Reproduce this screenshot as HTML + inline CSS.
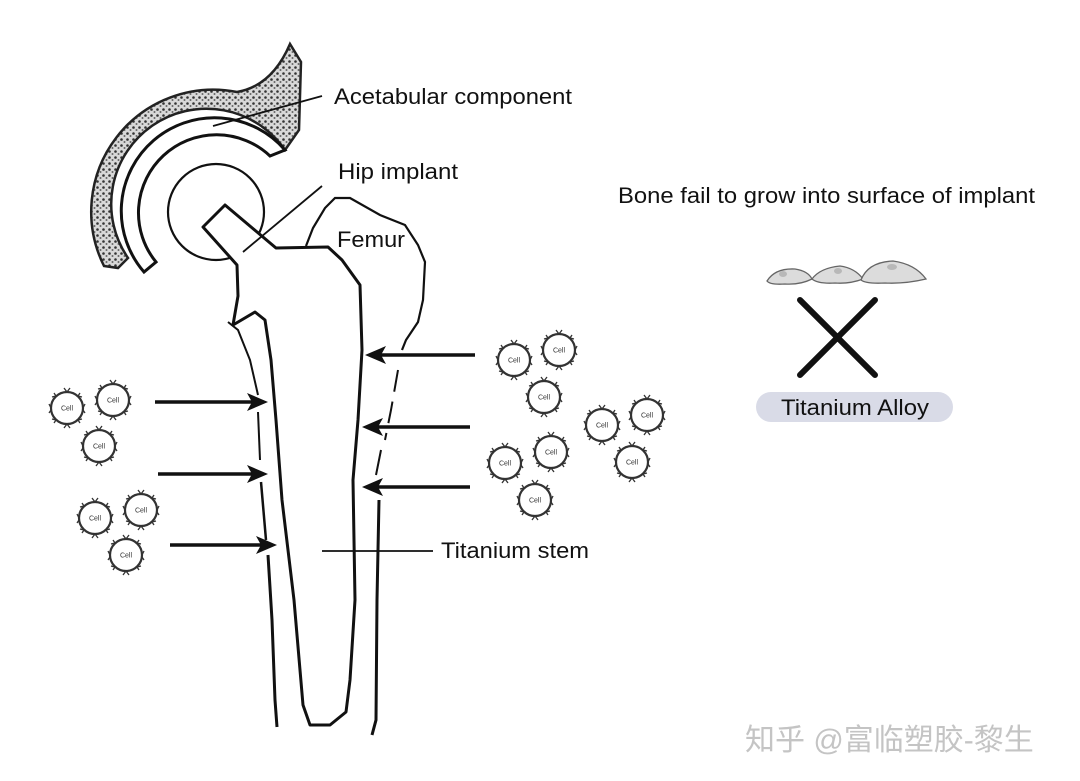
<!DOCTYPE html>
<html><head><meta charset="utf-8"><style>
html,body{margin:0;padding:0;background:#fff;}
svg{display:block}
text{font-family:"Liberation Sans",sans-serif;}
</style></head><body>
<svg width="1080" height="781" viewBox="0 0 1080 781" xmlns="http://www.w3.org/2000/svg">
<defs>
<pattern id="st" width="6" height="6" patternUnits="userSpaceOnUse">
<rect width="6" height="6" fill="#d8d8d8"/>
<circle cx="1.5" cy="1.5" r="1.3" fill="#333"/><circle cx="4.5" cy="4" r="1" fill="#666"/>
</pattern>
<g id="cell">
<circle r="16" fill="#fff" stroke="#333" stroke-width="2.2"/>
<g stroke="#333" stroke-width="1.3" fill="none">
<path d="M-3,-20 L0,-16 L3,-20"/><path d="M-3,20 L0,16 L3,20"/>
<path d="M13,-15 L11,-12 L15,-11"/><path d="M-13,-15 L-11,-12 L-15,-11"/>
<path d="M13,15 L11,12 L15,11"/><path d="M-13,15 L-11,12 L-15,11"/>
<path d="M18,-4 L16,0"/><path d="M-18,-4 L-16,0"/><path d="M18,5 L16,2"/><path d="M-18,5 L-16,2"/>
</g>
<text x="0" y="2.5" font-size="7" text-anchor="middle" fill="#333">Cell</text>
</g>
</defs>

<path d="M104 266 A122 122 0 0 1 237 92 Q272 86 290 44 L301 62 L299 130 L285 150 A93 93 0 0 0 128 258 L118 268 Z" fill="url(#st)" stroke="#222" stroke-width="2.5"/>
<path d="M285 150 A93 93 0 0 0 144 272 L156 262 A78 78 0 0 1 270 156 Z" fill="#fff" stroke="#111" stroke-width="3"/>
<circle cx="216" cy="212" r="48" fill="#fff" stroke="#111" stroke-width="2.2"/>
<path d="M203 227 L225 205 L276 248 L328 247 L342 260 L360 285 L362 350 L358 420 L353 480 L355 600 L350 680 L346 712 L330 725 L310 725 L303 705 L294 600 L282 500 L276 420 L271 360 L265 320 L255 312 L233 325 L238 296 L237 265 Z" fill="#fff" stroke="#111" stroke-width="3" stroke-linejoin="round"/>
<path d="M306 246 L313 228 L325 208 L335 198 L350 198 L380 215 L405 225 L418 245 L425 262 L423 300 L418 322 L406 340 L402 350" fill="none" stroke="#111" stroke-width="2.2"/>
<path d="M398 370 L391 410 L385 440" fill="none" stroke="#111" stroke-width="2" stroke-dasharray="22 10"/>
<path d="M381 450 L376 475" fill="none" stroke="#111" stroke-width="2"/>
<path d="M379 500 L377 600 L376 720 L372 735" fill="none" stroke="#111" stroke-width="3"/>
<path d="M228 322 L238 330 L250 360 L258 395" fill="none" stroke="#111" stroke-width="2"/>
<path d="M258 412 L260 460" fill="none" stroke="#111" stroke-width="2"/>
<path d="M261 482 L266 540" fill="none" stroke="#111" stroke-width="2.5"/>
<path d="M268 555 L272 620 L275 700 L277 727" fill="none" stroke="#111" stroke-width="3"/>
<g stroke="#111" stroke-width="1.8">
<line x1="213" y1="126" x2="322" y2="96"/>
<line x1="243" y1="252" x2="322" y2="186"/>
<line x1="322" y1="551" x2="433" y2="551"/>
</g>
<g stroke="#111" stroke-width="3.5">
<line x1="155" y1="402" x2="255" y2="402"/>
<line x1="158" y1="474" x2="255" y2="474"/>
<line x1="170" y1="545" x2="265" y2="545"/>
<line x1="475" y1="355" x2="378" y2="355"/>
<line x1="470" y1="427" x2="375" y2="427"/>
<line x1="470" y1="487" x2="375" y2="487"/>
</g>
<g fill="#111">
<path d="M268 402 L247 393 L252 402 L247 411 Z"/>
<path d="M268 474 L247 465 L252 474 L247 483 Z"/>
<path d="M277 545 L256 536 L261 545 L256 554 Z"/>
<path d="M365 355 L386 346 L381 355 L386 364 Z"/>
<path d="M362 427 L383 418 L378 427 L383 436 Z"/>
<path d="M362 487 L383 478 L378 487 L383 496 Z"/>
</g>
<use href="#cell" x="67" y="408"/><use href="#cell" x="113" y="400"/><use href="#cell" x="99" y="446"/>
<use href="#cell" x="95" y="518"/><use href="#cell" x="141" y="510"/><use href="#cell" x="126" y="555"/>
<use href="#cell" x="514" y="360"/><use href="#cell" x="559" y="350"/><use href="#cell" x="544" y="397"/>
<use href="#cell" x="602" y="425"/><use href="#cell" x="647" y="415"/><use href="#cell" x="505" y="463"/>
<use href="#cell" x="551" y="452"/><use href="#cell" x="632" y="462"/><use href="#cell" x="535" y="500"/>
<text x="334" y="104" font-size="22" fill="#111" textLength="238" lengthAdjust="spacingAndGlyphs">Acetabular component</text>
<text x="338" y="179" font-size="22" fill="#111" textLength="120" lengthAdjust="spacingAndGlyphs">Hip implant</text>
<text x="337" y="247" font-size="22" fill="#111" textLength="68" lengthAdjust="spacingAndGlyphs">Femur</text>
<text x="441" y="558" font-size="22" fill="#111" textLength="148" lengthAdjust="spacingAndGlyphs">Titanium stem</text>
<text x="618" y="203" font-size="22" fill="#111" textLength="417" lengthAdjust="spacingAndGlyphs">Bone fail to grow into surface of implant</text>
<g fill="#dcdcdc" stroke="#666" stroke-width="1.3">
<path d="M767 281 Q775 268 795 269 Q808 271 812 279 Q800 285 785 284 Q770 285 767 281 Z"/>
<path d="M812 279 Q820 268 840 266 Q855 268 863 279 Q850 284 835 283 Q818 284 812 279 Z"/>
<path d="M861 280 Q868 262 893 261 Q915 264 926 279 Q905 284 885 283 Q866 284 861 280 Z"/>
</g>
<g fill="#b8b8b8"><ellipse cx="783" cy="274" rx="4" ry="3"/><ellipse cx="838" cy="271" rx="4" ry="3"/><ellipse cx="892" cy="267" rx="5" ry="3"/></g>
<g stroke="#111" stroke-width="6" stroke-linecap="round">
<line x1="800" y1="300" x2="875" y2="375"/><line x1="875" y1="300" x2="800" y2="375"/>
</g>
<rect x="756" y="392" width="197" height="30" rx="15" fill="#d9dbe7"/>
<text x="781" y="415" font-size="22" fill="#111" textLength="148" lengthAdjust="spacingAndGlyphs">Titanium Alloy</text>
<text x="745" y="750" font-size="30" fill="#c4c4c4" style="font-family:'Liberation Sans','Noto Sans CJK SC',sans-serif">知乎 @富临塑胶-黎生</text>
</svg>
</body></html>
